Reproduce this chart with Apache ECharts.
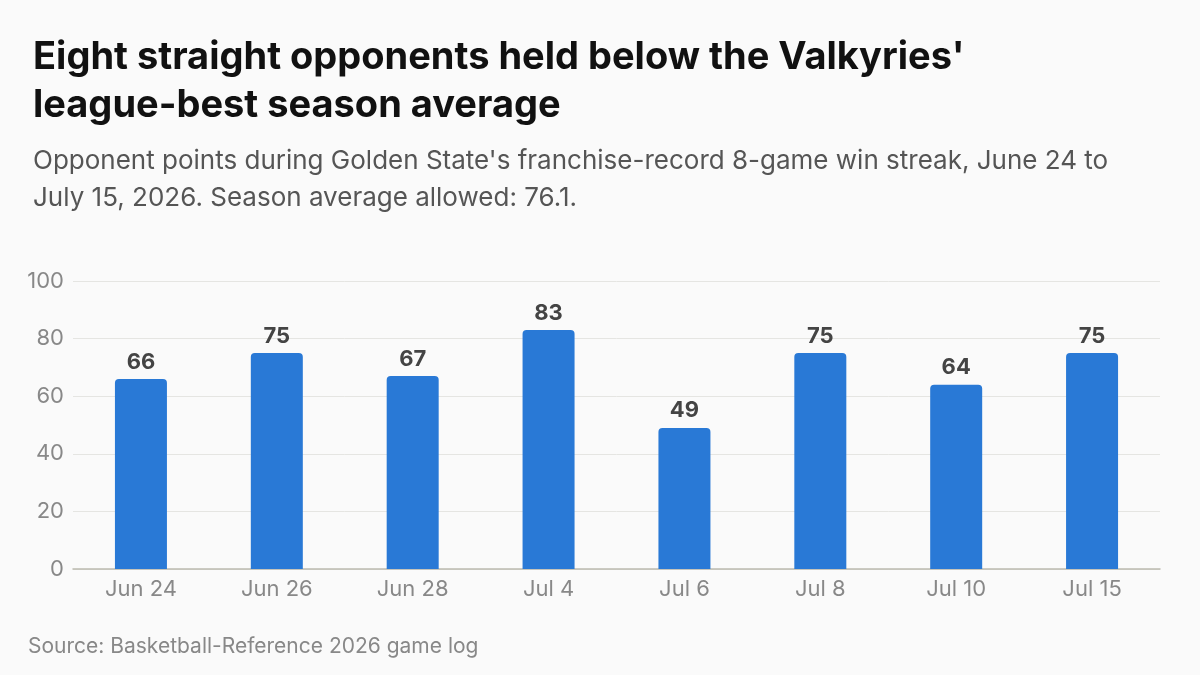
<!DOCTYPE html>
<html>
<head>
<meta charset="utf-8">
<script src="https://cdn.jsdelivr.net/npm/echarts@6/dist/echarts.min.js"></script>
<style>
  html, body { margin: 0; padding: 0; background: #fafafa; }
  #chart { width: 1200px; height: 675px; }
</style>
</head>
<body>
<div id="chart"></div>
<script>
// game dates and opponent points
var categories = ['Jun 24', 'Jun 26', 'Jun 28', 'Jul 4', 'Jul 6', 'Jul 8', 'Jul 10', 'Jul 15'];
var opponentPoints = [66, 75, 67, 83, 49, 75, 64, 75];
var yTicks = [0, 20, 40, 60, 80, 100];

var font = 'Inter, "Noto Sans", sans-serif';
var myChart = echarts.init(document.getElementById('chart'));

var options = {
  backgroundColor: '#fafafa',
  animation: false,
  title: [{
    text: "Eight straight opponents held below the Valkyries'\nleague-best season average",
    left: 28, top: 29,
    textStyle: { fontFamily: font, fontSize: 38, fontWeight: 'bold', color: '#111111', lineHeight: 48 }
  }, {
    text: "Opponent points during Golden State's franchise-record 8-game win streak, June 24 to\nJuly 15, 2026. Season average allowed: 76.1.",
    left: 28, top: 138,
    textStyle: { fontFamily: font, fontSize: 26, fontWeight: 'normal', color: '#555555', lineHeight: 37 }
  }, {
    text: 'Source: Basketball-Reference 2026 game log',
    left: 23, top: 629,
    textStyle: { fontFamily: font, fontSize: 21, fontWeight: 'normal', color: '#888888', lineHeight: 26 }
  }],
  grid: { left: 73, right: 40, top: 281, bottom: 106, containLabel: false },
  xAxis: {
    type: 'category',
    data: categories,
    axisTick: { show: false },
    axisLine: { lineStyle: { color: '#bcbab0', width: 1.5 } },
    axisLabel: { color: '#888888', fontFamily: font, fontSize: 22, margin: 9 }
  },
  yAxis: {
    type: 'value',
    min: yTicks[0],
    max: yTicks[yTicks.length - 1],
    interval: 20,
    axisLine: { show: false },
    axisTick: { show: false },
    axisLabel: { color: '#888888', fontFamily: font, fontSize: 22, margin: 9 },
    splitLine: { lineStyle: { color: '#e5e5e2', width: 1 } }
  },
  series: [{
    type: 'bar',
    data: opponentPoints,
    barWidth: 52,
    itemStyle: { color: '#2979d6', borderRadius: [4, 4, 0, 0] },
    label: {
      show: true,
      position: 'top',
      distance: 6,
      color: '#444444',
      fontFamily: font,
      fontSize: 22,
      fontWeight: 'bold'
    }
  }]
};

myChart.setOption(options);
</script>
</body>
</html>
